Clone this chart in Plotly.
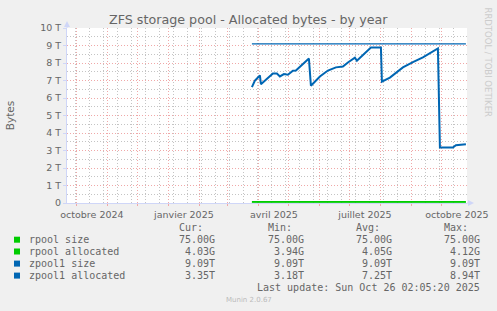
import plotly.graph_objects as go

# ---------------- data ----------------
t_start = "2024-09-21 02:05:20"
t_end = "2025-10-26 02:05:20"

alloc_dates = ["2025-03-25", "2025-03-28", "2025-04-02", "2025-04-03", "2025-04-08",
               "2025-04-15", "2025-04-19", "2025-04-22", "2025-04-26", "2025-04-30",
               "2025-05-05", "2025-05-08", "2025-05-21", "2025-05-23", "2025-06-01",
               "2025-06-09", "2025-06-17", "2025-06-24", "2025-06-29", "2025-07-06",
               "2025-07-08", "2025-07-22", "2025-08-01", "2025-08-02", "2025-08-10",
               "2025-08-16", "2025-08-23", "2025-09-02", "2025-09-12", "2025-09-27",
               "2025-09-28", "2025-09-29", "2025-10-12", "2025-10-15", "2025-10-25"]
zpool1_alloc_T = [6.62, 7.00, 7.29, 6.79, 7.04,
                  7.40, 7.40, 7.23, 7.37, 7.33,
                  7.56, 7.57, 8.26, 6.70, 7.23,
                  7.57, 7.75, 7.80, 8.03, 8.30,
                  8.13, 8.89, 8.89, 6.94, 7.17,
                  7.42, 7.75, 8.05, 8.32, 8.83,
                  6.10, 3.17, 3.17, 3.30, 3.36]

size_dates = ["2025-03-25", "2025-10-25"]
rpool_size_T = [0.0732, 0.0732]
rpool_alloc_T = [0.0039, 0.0039]
zpool1_size_T = [9.09, 9.09]

series_names = ["rpool size", "rpool allocated", "zpool1 size", "zpool1 allocated"]
series_colors = ["#00CC00", "#00CC00", "#0066B3", "#0066B3"]
stat_headers = ["Cur:", "Min:", "Avg:", "Max:"]
stat_cur = ["75.00G", "4.03G", "9.09T", "3.35T"]
stat_min = ["75.00G", "3.94G", "9.09T", "3.18T"]
stat_avg = ["75.00G", "4.05G", "9.09T", "7.25T"]
stat_max = ["75.00G", "4.12G", "9.09T", "8.94T"]

y_ticks = [0, 1, 2, 3, 4, 5, 6, 7, 8, 9, 10]
y_ticktext = ["0", "1 T", "2 T", "3 T", "4 T", "5 T", "6 T", "7 T", "8 T", "9 T", "10 T"]
y_minor = [0.5, 1.5, 2.5, 3.5, 4.5, 5.5, 6.5, 7.5, 8.5, 9.5]

x_label_pos = ["2024-10-16", "2025-01-16", "2025-04-16", "2025-07-16", "2025-10-16"]
x_label_text = ["octobre 2024", "janvier 2025", "avril 2025", "juillet 2025", "octobre 2025"]
month_starts = ["2024-10-01", "2024-11-01", "2024-12-01", "2025-01-01", "2025-02-01",
                "2025-03-01", "2025-04-01", "2025-05-01", "2025-06-01", "2025-07-01",
                "2025-08-01", "2025-09-01", "2025-10-01"]
minor_weeks = ["2024-09-30", "2024-10-14", "2024-10-28", "2024-11-11", "2024-11-25",
               "2024-12-09", "2024-12-23", "2025-01-06", "2025-01-20", "2025-02-03",
               "2025-02-17", "2025-03-03", "2025-03-17", "2025-03-31", "2025-04-14",
               "2025-04-28", "2025-05-12", "2025-05-26", "2025-06-09", "2025-06-23",
               "2025-07-07", "2025-07-21", "2025-08-04", "2025-08-18", "2025-09-01",
               "2025-09-15", "2025-09-29", "2025-10-13"]

# ---------------- layout geometry ----------------
W, H = 497, 311
L, R, T, B = 67, 467, 28, 203
PW, PH = R - L, B - T

def px(x):
    return (x - L) / PW

def py(y):
    return (B - y) / PH

FONT = "DejaVu Sans"
MONO = "DejaVu Sans Mono"
FC = "#666666"
AXC = "#CFD6F8"
MGRID = "#F0A8A8"
GRID = "#C4C4C4"
DASH = "1px,2px"

fig = go.Figure()
# invisible helper trace to materialise the overlay axis carrying the monthly grid
fig.add_trace(go.Scatter(x=[t_start], y=[0], mode="markers", xaxis="x2",
                         marker=dict(opacity=0), hoverinfo="skip"))
fig.add_trace(go.Scatter(x=size_dates, y=rpool_size_T, mode="lines",
                         line=dict(color=series_colors[0], width=1.5), hoverinfo="skip"))
fig.add_trace(go.Scatter(x=size_dates, y=rpool_alloc_T, mode="lines",
                         line=dict(color=series_colors[1], width=1.5), hoverinfo="skip"))
fig.add_trace(go.Scatter(x=size_dates, y=zpool1_size_T, mode="lines",
                         line=dict(color=series_colors[2], width=1.2), hoverinfo="skip"))
fig.add_trace(go.Scatter(x=alloc_dates, y=zpool1_alloc_T, mode="lines",
                         line=dict(color=series_colors[3], width=2), hoverinfo="skip"))

fig.update_layout(
    width=W, height=H, showlegend=False,
    paper_bgcolor="#F0F0F0", plot_bgcolor="#FFFFFF",
    margin=dict(l=L, r=W - R, t=T, b=H - B, pad=0),
    font=dict(family=FONT, color=FC, size=9.5),
    xaxis=dict(range=[t_start, t_end], type="date", tickmode="array",
               tickvals=x_label_pos, ticktext=x_label_text, ticks="", showgrid=False,
               tickfont=dict(size=9.5, color=FC), automargin=False, ticklabelstandoff=3,
               showline=True, linecolor=AXC, linewidth=1, zeroline=False,
               minor=dict(tickmode="array", tickvals=minor_weeks, showgrid=True,
                          gridcolor=GRID, griddash=DASH, gridwidth=1)),
    xaxis2=dict(range=[t_start, t_end], type="date", overlaying="x", anchor="y",
                tickmode="array", tickvals=month_starts, showticklabels=False,
                ticks="outside", ticklen=2, tickcolor=MGRID,
                showgrid=True, gridcolor=MGRID, griddash=DASH, gridwidth=1,
                zeroline=False, showline=False, automargin=False),
    yaxis=dict(range=[0, 10], tickmode="array", tickvals=y_ticks, ticktext=y_ticktext,
               showgrid=True, gridcolor=MGRID, griddash=DASH, gridwidth=1,
               ticks="outside", ticklen=3, tickcolor=AXC, tickfont=dict(size=9.5, color=FC),
               showline=True, linecolor=AXC, linewidth=1, zeroline=False, automargin=False,
               title=dict(text="Bytes", font=dict(size=10.5, color=FC), standoff=23),
               minor=dict(tickmode="array", tickvals=y_minor, showgrid=True,
                          gridcolor=GRID, griddash=DASH, gridwidth=1)),
)

ann = []
shapes = []
# title
ann.append(dict(text="ZFS storage pool - Allocated bytes - by year", x=px(248.5), y=py(19),
                xref="paper", yref="paper", showarrow=False, xanchor="center", yanchor="middle",
                font=dict(family=FONT, size=12.7, color=FC)))
# watermark
ann.append(dict(text="RRDTOOL / TOBI OETIKER", x=px(487.5), y=py(62), textangle=90,
                xref="paper", yref="paper", showarrow=False, xanchor="center", yanchor="middle",
                font=dict(family=FONT, size=8.5, color="#CCCCCC")))
# arrows
shapes.append(dict(type="path", xref="paper", yref="paper",
                   path=f"M {px(64)} {py(27)} L {px(70)} {py(27)} L {px(67)} {py(21)} Z",
                   fillcolor=AXC, line=dict(width=0)))
shapes.append(dict(type="line", xref="paper", yref="paper", x0=px(67), x1=px(67),
                   y0=py(28), y1=py(24), line=dict(color=AXC, width=1)))
shapes.append(dict(type="path", xref="paper", yref="paper",
                   path=f"M {px(468)} {py(200)} L {px(468)} {py(206)} L {px(474)} {py(203)} Z",
                   fillcolor=AXC, line=dict(width=0)))
shapes.append(dict(type="line", xref="paper", yref="paper", x0=px(467), x1=px(470),
                   y0=py(203), y1=py(203), line=dict(color=AXC, width=1)))

# legend table
col_right = [216.7, 305.7, 394.0, 482.3]
head_right = [204.5, 293.5, 381.5, 470.3]
for h, xr in zip(stat_headers, head_right):
    ann.append(dict(text=h, x=px(xr), y=py(227.5), xref="paper", yref="paper", showarrow=False,
                    xanchor="right", yanchor="middle", font=dict(family=MONO, size=10, color=FC)))
rows_y = [239.7, 251.5, 263.6, 275.6]
for i, name in enumerate(series_names):
    yy = rows_y[i]
    shapes.append(dict(type="rect", xref="paper", yref="paper", x0=px(14), x1=px(20),
                       y0=py(yy - 3), y1=py(yy + 3), fillcolor=series_colors[i],
                       line=dict(width=0)))
    ann.append(dict(text=name, x=px(26.5), y=py(yy), xref="paper", yref="paper", showarrow=False,
                    xanchor="left", yanchor="middle", font=dict(family=MONO, size=10, color=FC)))
    for vals, xr in zip([stat_cur, stat_min, stat_avg, stat_max], col_right):
        ann.append(dict(text=vals[i], x=px(xr), y=py(yy), xref="paper", yref="paper",
                        showarrow=False, xanchor="right", yanchor="middle",
                        font=dict(family=MONO, size=10, color=FC)))
ann.append(dict(text="Last update: Sun Oct 26 02:05:20 2025", x=px(482.3), y=py(287.3),
                xref="paper", yref="paper", showarrow=False, xanchor="right", yanchor="middle",
                font=dict(family=MONO, size=10, color=FC)))
ann.append(dict(text="Munin 2.0.67", x=px(248.5), y=py(300.3),
                xref="paper", yref="paper", showarrow=False, xanchor="center", yanchor="middle",
                font=dict(family=FONT, size=7, color="#BBBBBB")))

fig.update_layout(annotations=ann, shapes=shapes)
fig.write_html("out.html")
